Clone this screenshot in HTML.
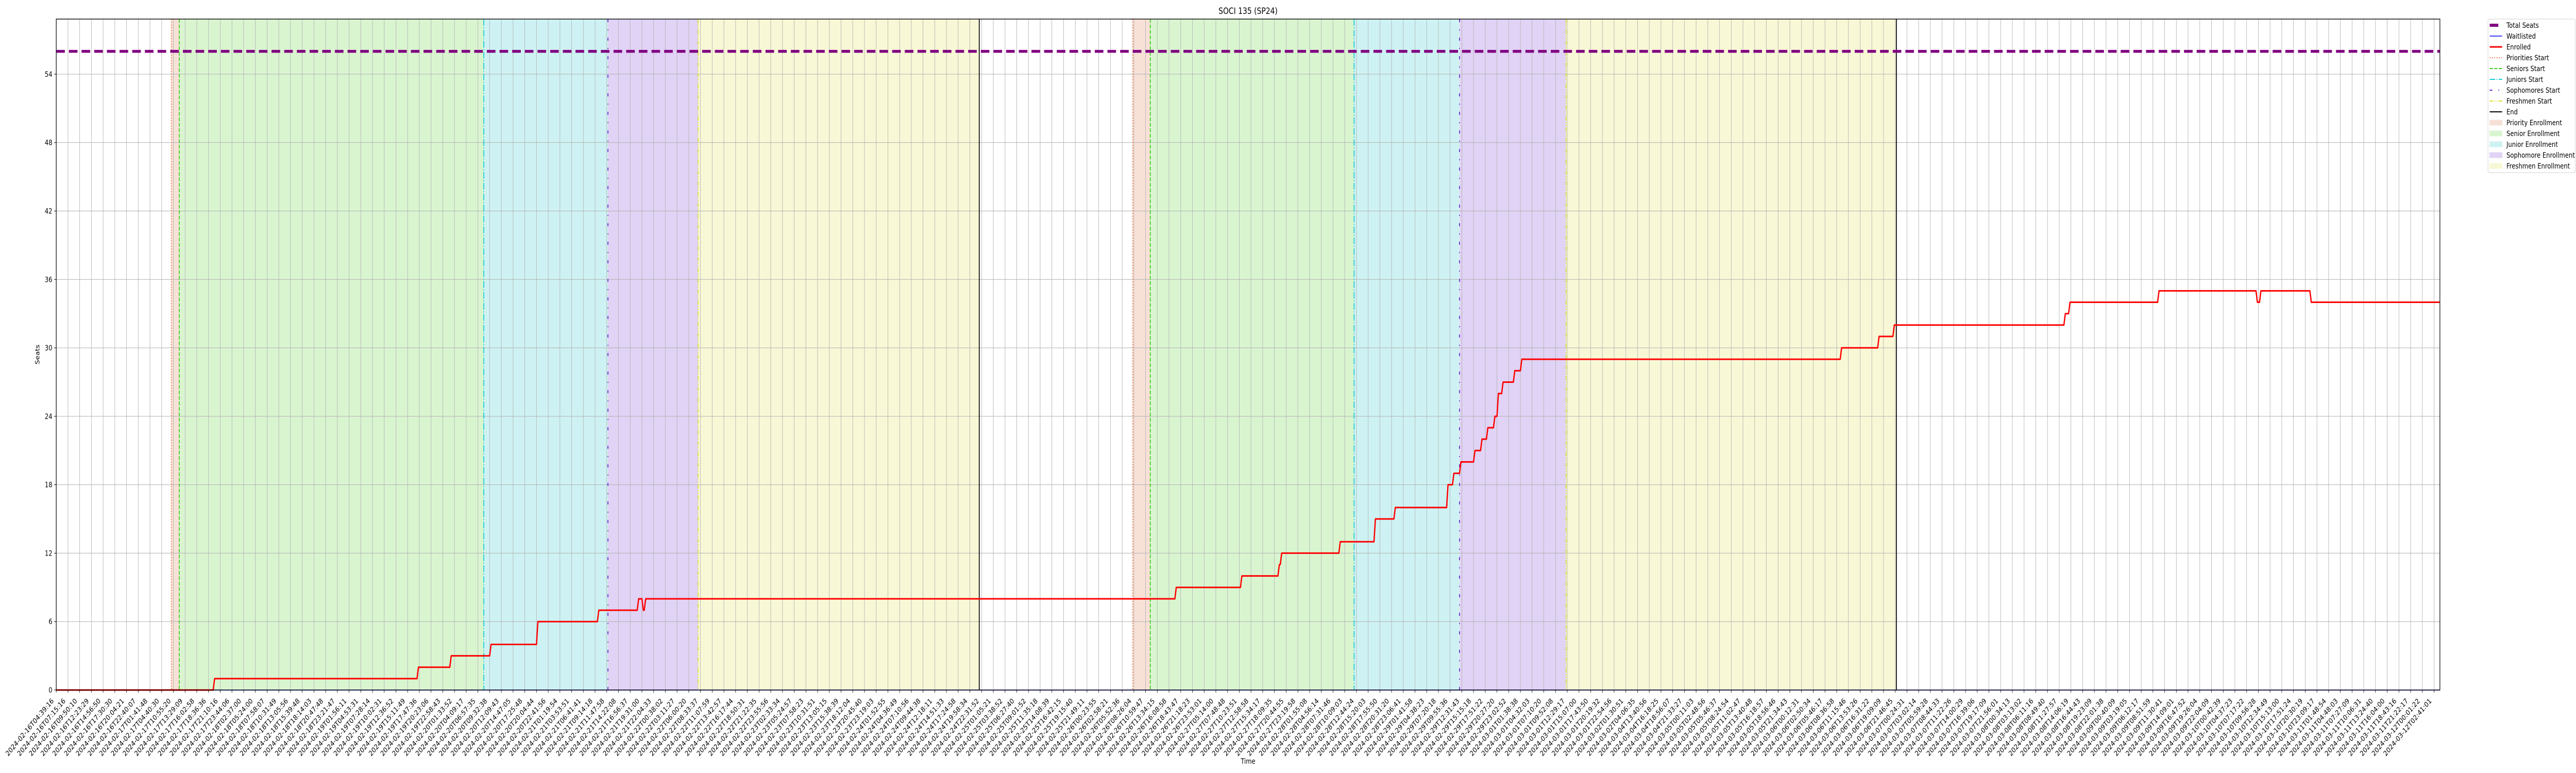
<!DOCTYPE html>
<html>
<head>
<meta charset="utf-8">
<style>
  html, body { margin:0; padding:0; background:#fff; overflow:hidden; width:100%; height:100%; }
  svg { display:block; width:100vw; height:100vh; font-family:"DejaVu Sans","Liberation Sans",sans-serif; }
</style>
</head>
<body>
<svg id="chart" viewBox="0 0 6000 1500" preserveAspectRatio="none" xmlns="http://www.w3.org/2000/svg">
  <rect x="0" y="0" width="6000" height="1500" fill="#ffffff"/>
  <g id="spans"></g>
  <g id="grid"></g>
  <g id="vlines"></g>
  <g id="series"></g>
  <g id="axes"></g>
  <text x="2907" y="27" font-size="16.7" text-anchor="middle">SOCI 135 (SP24)</text>
  <text x="2907" y="1482" font-size="13.9" text-anchor="middle">Time</text>
  <text x="0" y="0" font-size="13.9" text-anchor="middle" transform="translate(92,688) rotate(-90)">Seats</text>
  <g id="legend"></g>
</svg>
<script>
const tickLabels = [
"2024-02-16T04:39:16","2024-02-16T07:15:16","2024-02-16T09:50:10","2024-02-16T12:23:29","2024-02-16T14:56:50","2024-02-16T17:30:30","2024-02-16T20:04:21","2024-02-16T22:40:07","2024-02-17T01:41:48","2024-02-17T04:40:30",
"2024-02-17T10:55:20","2024-02-17T13:29:09","2024-02-17T16:02:58","2024-02-17T18:36:36","2024-02-17T21:10:16","2024-02-17T23:44:06","2024-02-18T02:37:00","2024-02-18T05:24:00","2024-02-18T07:58:07","2024-02-18T10:31:49",
"2024-02-18T13:05:56","2024-02-18T15:39:48","2024-02-18T18:14:03","2024-02-18T20:47:48","2024-02-18T23:21:47","2024-02-19T01:56:11","2024-02-19T04:53:31","2024-02-19T07:28:14","2024-02-19T10:02:31","2024-02-19T12:36:52",
"2024-02-19T15:11:49","2024-02-19T17:47:36","2024-02-19T20:23:06","2024-02-19T22:58:43","2024-02-20T01:33:52","2024-02-20T04:09:17","2024-02-20T06:57:35","2024-02-20T09:32:38","2024-02-20T12:09:43","2024-02-20T14:47:05",
"2024-02-20T17:25:48","2024-02-20T20:04:44","2024-02-20T22:41:56","2024-02-21T01:19:54","2024-02-21T03:53:51","2024-02-21T06:41:41","2024-02-21T09:14:18","2024-02-21T11:47:58","2024-02-21T14:22:08","2024-02-21T16:56:37",
"2024-02-21T19:31:00","2024-02-21T22:04:33","2024-02-22T00:38:02","2024-02-22T03:11:27","2024-02-22T06:00:20","2024-02-22T08:33:37","2024-02-22T11:07:59","2024-02-22T13:42:57","2024-02-22T16:17:44","2024-02-22T18:50:31",
"2024-02-22T21:22:35","2024-02-22T23:55:56","2024-02-23T02:33:34","2024-02-23T05:24:57","2024-02-23T07:58:23","2024-02-23T10:31:51","2024-02-23T13:05:15","2024-02-23T15:38:39","2024-02-23T18:12:04","2024-02-23T20:45:40",
"2024-02-23T23:19:03","2024-02-24T01:52:55","2024-02-24T04:36:49","2024-02-24T07:10:56","2024-02-24T09:44:38","2024-02-24T12:18:11","2024-02-24T14:51:33","2024-02-24T17:24:58","2024-02-24T19:58:34","2024-02-24T22:31:52",
"2024-02-25T01:05:21","2024-02-25T03:38:52","2024-02-25T06:27:40","2024-02-25T09:01:52","2024-02-25T11:35:18","2024-02-25T14:08:39","2024-02-25T16:42:15","2024-02-25T19:15:40","2024-02-25T21:49:11","2024-02-26T00:23:55",
"2024-02-26T02:58:21","2024-02-26T05:52:36","2024-02-26T08:26:04","2024-02-26T10:59:47","2024-02-26T13:34:15","2024-02-26T16:08:58","2024-02-26T18:43:47","2024-02-26T21:18:23","2024-02-26T23:53:01","2024-02-27T05:14:00",
"2024-02-27T07:48:48","2024-02-27T10:23:51","2024-02-27T12:58:58","2024-02-27T15:34:17","2024-02-27T18:09:35","2024-02-27T20:44:55","2024-02-27T23:19:58","2024-02-28T01:55:08","2024-02-28T04:56:14","2024-02-28T07:31:46",
"2024-02-28T10:09:03","2024-02-28T12:44:24","2024-02-28T15:20:03","2024-02-28T17:55:50","2024-02-28T20:31:20","2024-02-28T23:06:41","2024-02-29T01:41:58","2024-02-29T04:38:23","2024-02-29T07:20:18","2024-02-29T09:55:36",
"2024-02-29T12:31:43","2024-02-29T15:15:18","2024-02-29T17:51:22","2024-02-29T20:27:20","2024-02-29T23:02:52","2024-03-01T01:38:38","2024-03-01T04:32:03","2024-03-01T07:10:20","2024-03-01T09:52:08","2024-03-01T12:29:17",
"2024-03-01T15:07:00","2024-03-01T17:43:50","2024-03-01T20:19:32","2024-03-01T22:54:56","2024-03-02T01:30:51","2024-03-02T04:06:35","2024-03-04T13:40:56","2024-03-04T16:18:25","2024-03-04T18:56:07","2024-03-04T21:33:27",
"2024-03-05T00:11:03","2024-03-05T02:48:56","2024-03-05T05:46:37","2024-03-05T08:24:54","2024-03-05T11:02:47","2024-03-05T13:40:48","2024-03-05T16:18:57","2024-03-05T18:56:46","2024-03-05T21:34:43","2024-03-06T00:12:31",
"2024-03-06T02:50:34","2024-03-06T05:46:17","2024-03-06T08:36:58","2024-03-06T11:15:46","2024-03-06T13:53:26","2024-03-06T16:31:22","2024-03-06T19:09:09","2024-03-06T21:46:45","2024-03-07T00:24:31","2024-03-07T03:02:14",
"2024-03-07T05:59:28","2024-03-07T08:44:33","2024-03-07T11:22:26","2024-03-07T14:00:29","2024-03-07T16:39:06","2024-03-07T19:17:09","2024-03-07T21:56:01","2024-03-08T00:34:13","2024-03-08T03:13:02","2024-03-08T06:11:16",
"2024-03-08T08:49:40","2024-03-08T11:27:57","2024-03-08T14:06:19","2024-03-08T16:44:43","2024-03-08T19:23:09","2024-03-08T22:01:38","2024-03-09T00:40:09","2024-03-09T03:19:05","2024-03-09T06:12:17","2024-03-09T08:51:59",
"2024-03-09T11:30:41","2024-03-09T14:09:01","2024-03-09T16:47:52","2024-03-09T19:26:04","2024-03-09T22:04:09","2024-03-10T00:42:39","2024-03-10T04:37:23","2024-03-10T07:17:22","2024-03-10T09:56:28","2024-03-10T12:34:49",
"2024-03-10T15:13:00","2024-03-10T17:51:24","2024-03-10T20:30:19","2024-03-10T23:09:17","2024-03-11T01:48:54","2024-03-11T04:48:03","2024-03-11T07:27:09","2024-03-11T10:06:31","2024-03-11T13:24:40","2024-03-11T16:04:00",
"2024-03-11T18:43:16","2024-03-11T21:22:17","2024-03-12T00:01:22","2024-03-12T02:41:01"
];
const yTicks = [0, 6, 12, 18, 24, 30, 36, 42, 48, 54];
const totalSeats = 56;
const enrolledStepIdx = [13.4, 30.8, 33.6, 37.0, 41.0, 46.2, 49.6, 50.0, 50.2, 95.5, 101.1, 104.3, 104.5, 109.5, 112.5, 114.2, 118.7, 119.2, 119.8, 121.0, 121.6, 122.1, 122.7, 123.0, 123.4, 124.4, 125.0, 152.3, 155.5, 156.8, 171.4, 171.8, 179.4, 187.8, 188.1, 192.4];
const enrolledStepVal = [1, 2, 3, 4, 6, 7, 8, 7, 8, 9, 10, 11, 12, 13, 15, 16, 18, 19, 20, 21, 22, 23, 24, 26, 27, 28, 29, 30, 31, 32, 33, 34, 35, 34, 35, 34];
const waitlistIdx = [0, 203.5];
const waitlistVal = [0, 0];
const priorityStarts = [9.83, 91.9];
const seniorStarts = [10.5, 93.4];
const juniorStarts = [36.5, 110.8];
const sophomoreStarts = [47.1, 119.8];
const freshmenStarts = [54.8, 128.9];
const endMarks = [78.8, 157.1];

const NS = "http://www.w3.org/2000/svg";
const L = 131, R = 5683, T = 37, B = 1339;
const XMAX = 203.5, YMAX = 58.83;
function x(i) { return L + i * (R - L) / XMAX; }
function y(v) { return B - v * (B - T) / YMAX; }
function mk(tag, attrs, parent) {
  const e = document.createElementNS(NS, tag);
  for (const k in attrs) e.setAttribute(k, attrs[k]);
  parent.appendChild(e);
  return e;
}
const spans = document.getElementById('spans');
const grid = document.getElementById('grid');
const vlines = document.getElementById('vlines');
const series = document.getElementById('series');
const axes = document.getElementById('axes');
const legend = document.getElementById('legend');

const shade = { priority:'#f7e1d7', senior:'#d9f5d0', junior:'#cef2f3', sophomore:'#e0d3f5', freshmen:'#f8f8d6' };
for (let k = 0; k < priorityStarts.length; k++) {
  const bounds = [priorityStarts[k], seniorStarts[k], juniorStarts[k], sophomoreStarts[k], freshmenStarts[k], endMarks[k]];
  const names = ['priority', 'senior', 'junior', 'sophomore', 'freshmen'];
  for (let j = 0; j < 5; j++) {
    const r = mk('rect', { x: x(bounds[j]), y: T, width: x(bounds[j + 1]) - x(bounds[j]), height: B - T, fill: shade[names[j]] }, spans);
    
    
  }
}
for (let i = 0; i < tickLabels.length; i++) {
  const g = mk('line', { x1: x(i), x2: x(i), y1: T, y2: B, stroke: '#b0b0b0', 'stroke-width': 1 }, grid);
  
  
}
for (const v of yTicks) {
  const g = mk('line', { x1: L, x2: R, y1: y(v), y2: y(v), stroke: '#b0b0b0', 'stroke-width': 1 }, grid);
  
  
}
const lineStyles = [
  [priorityStarts, '#ec6a2e', '2,3.3', 'priorities-start-line'],
  [seniorStarts, '#3fcc1b', '7.4,3.2', 'seniors-start-line'],
  [juniorStarts, '#12cdd4', '12.8,3.2,2,3.2', 'juniors-start-line'],
  [sophomoreStarts, '#6a22d6', '6,14,2,14', 'sophomores-start-line'],
  [freshmenStarts, '#dede2a', '8,3,2,3,2,3', 'freshmen-start-line'],
  [endMarks, '#000000', '', 'end-line']
];
for (const [arr, col, dash, nm] of lineStyles) {
  for (const v of arr) {
    const a = { x1: x(v), x2: x(v), y1: T, y2: B, stroke: col, 'stroke-width': 2 };
    if (dash) a['stroke-dasharray'] = dash;
    const e = mk('line', a, vlines);
    
    
  }
}
const ts = mk('line', { x1: L, x2: R, y1: y(totalSeats), y2: y(totalSeats), stroke: '#800080', 'stroke-width': 5.5, 'stroke-dasharray': '20,9.5' }, series);


let wp = [];
for (let k = 0; k < waitlistIdx.length; k++) wp.push(x(waitlistIdx[k]) + ',' + y(waitlistVal[k]));
const wl = mk('polyline', { points: wp.join(' '), fill: 'none', stroke: '#0000ff', 'stroke-width': 1.5 }, series);


let pts = [x(0) + ',' + y(0)];
let prev = 0;
for (let k = 0; k < enrolledStepIdx.length; k++) {
  pts.push(x(enrolledStepIdx[k]) + ',' + y(prev));
  pts.push(x(enrolledStepIdx[k] + 0.12) + ',' + y(enrolledStepVal[k]));
  prev = enrolledStepVal[k];
}
pts.push(x(XMAX) + ',' + y(prev));
const en = mk('polyline', { points: pts.join(' '), fill: 'none', stroke: '#ff0000', 'stroke-width': 3, 'stroke-linejoin': 'round' }, series);


const fr = mk('rect', { x: L, y: T, width: R - L, height: B - T, fill: 'none', stroke: '#000', 'stroke-width': 1.4 }, axes);


for (let i = 0; i < tickLabels.length; i++) {
  const t = mk('line', { x1: x(i), x2: x(i), y1: B, y2: B + 5, stroke: '#000', 'stroke-width': 1 }, axes);
  
  
  const ax = x(i) - 5, ay = B + 22;
  const tx = mk('text', { x: ax, y: ay, 'font-size': 13.9, 'text-anchor': 'end', transform: 'rotate(-45 ' + ax + ' ' + ay + ')' }, axes);
  tx.textContent = tickLabels[i];
  
  
}
for (const v of yTicks) {
  const t = mk('line', { x1: L - 5, x2: L, y1: y(v), y2: y(v), stroke: '#000', 'stroke-width': 1 }, axes);
  
  
  const tx = mk('text', { x: L - 9, y: y(v) + 5, 'font-size': 13.9, 'text-anchor': 'end' }, axes);
  tx.textContent = String(v);
  
  
}
const lb = mk('rect', { x: 5795, y: 37, width: 203, height: 298, rx: 3, fill: '#fff', stroke: '#d0d0d0', 'stroke-width': 1 }, legend);


const entries = [
  ['Total Seats', 'line', '#800080', 6, '', 20],
  ['Waitlisted', 'line', '#0000ff', 1.5, '', 29],
  ['Enrolled', 'line', '#ff0000', 3, '', 29],
  ['Priorities Start', 'line', '#ec6a2e', 2, '2,3.3', 29],
  ['Seniors Start', 'line', '#3fcc1b', 2, '7.4,3.2', 29],
  ['Juniors Start', 'line', '#12cdd4', 2, '12.8,3.2,2,3.2', 29],
  ['Sophomores Start', 'line', '#6a22d6', 2, '6,14,2,14', 29],
  ['Freshmen Start', 'line', '#dede2a', 2, '8,3,2,3,2,3', 29],
  ['End', 'line', '#000000', 2, '', 29],
  ['Priority Enrollment', 'patch', '#f7e1d7'],
  ['Senior Enrollment', 'patch', '#d9f5d0'],
  ['Junior Enrollment', 'patch', '#cef2f3'],
  ['Sophomore Enrollment', 'patch', '#e0d3f5'],
  ['Freshmen Enrollment', 'patch', '#f8f8d6']
];
for (let k = 0; k < entries.length; k++) {
  const e = entries[k];
  const cy = 49 + k * 21;
  const g = mk('g', {}, legend);
  
  
  if (e[1] === 'line') {
    const a = { x1: 5799, x2: 5799 + e[5], y1: cy, y2: cy, stroke: e[2], 'stroke-width': e[3] };
    if (e[4]) a['stroke-dasharray'] = e[4];
    mk('line', a, g);
  } else {
    mk('rect', { x: 5799, y: cy - 5, width: 29, height: 10, fill: e[2], stroke: e[2] }, g);
  }
  const t = mk('text', { x: 5838, y: cy + 5, 'font-size': 13.9 }, g);
  t.textContent = e[0];
}
</script>
</body>
</html>
